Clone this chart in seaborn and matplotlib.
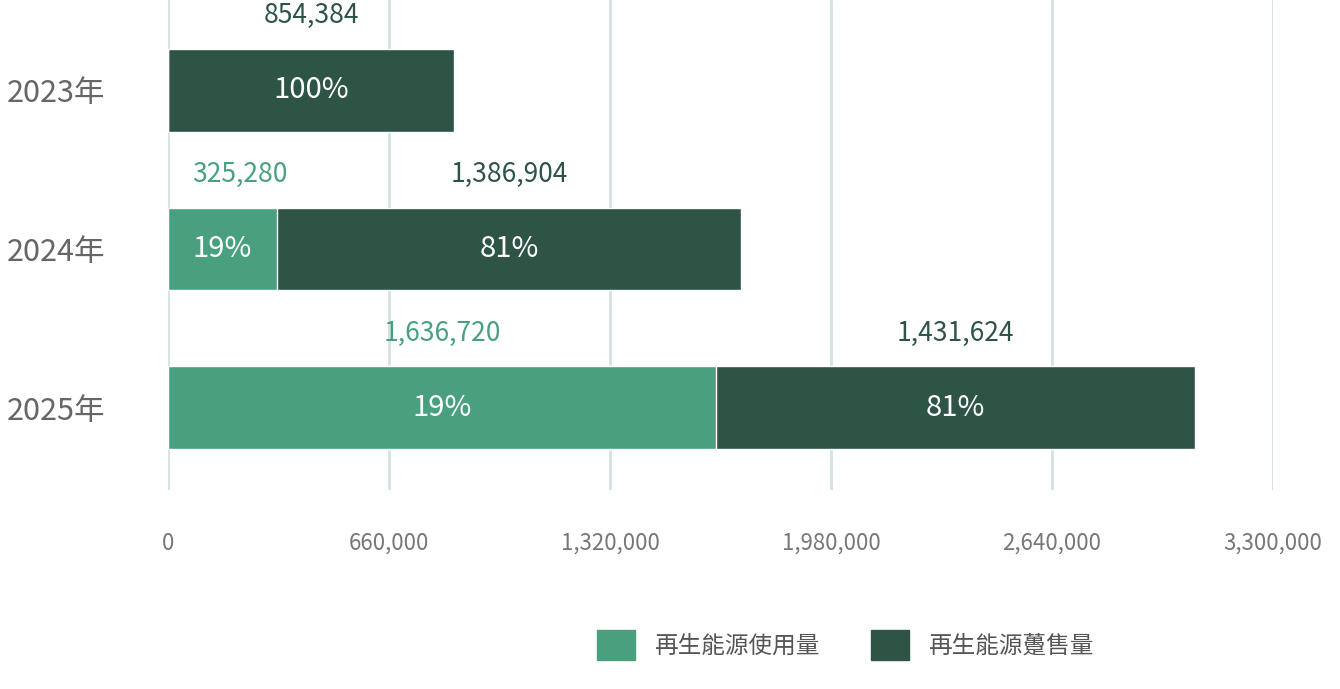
import matplotlib
matplotlib.use("Agg")
import matplotlib.pyplot as plt
import seaborn as sns
import pandas as pd
from matplotlib.patches import Patch

years = ["2023年", "2024年", "2025年"]
used = [0, 325280, 1636720]
sold = [854384, 1386904, 1431624]
used_pct = ["", "19%", "19%"]
sold_pct = ["100%", "81%", "81%"]
ticks = [0, 660000, 1320000, 1980000, 2640000, 3300000]

GREEN = "#48a07f"
DARK = "#2e5446"
sns.set_style("white")
plt.rcParams['font.family'] = ['Noto Sans CJK TC', 'DejaVu Sans']

totals = [u + s for u, s in zip(used, sold)]
df = pd.DataFrame({"year": years, "used": used, "total": totals})

fig = plt.figure(figsize=(13.4, 6.89), dpi=100)
ax = fig.add_axes([168/1340, 1-490/689, (1273-168)/1340, 490/689])
for t in ticks:
    ax.axvline(t, color="#d3e3df", lw=2, zorder=0)
sns.barplot(data=df, y="year", x="total", color=DARK, orient="h", width=0.52, ax=ax, zorder=2, saturation=1)
sns.barplot(data=df, y="year", x="used", color=GREEN, orient="h", width=0.52, ax=ax, zorder=3, saturation=1)
ax.set_xlim(0, 3300000)
ax.set_ylim(2.52, -0.57)
for i in range(3):
    if used[i] > 0:
        ax.text(used[i]/2, i, used_pct[i], ha="center", va="center", color="white", fontsize=21, zorder=5)
        ax.text(used[i]/2 if i == 2 else 215000, i-0.47, f"{used[i]:,}", ha="center", va="center", color=GREEN, fontsize=19, zorder=5)
    c = used[i] + sold[i]/2
    ax.text(c, i, sold_pct[i], ha="center", va="center", color="white", fontsize=21, zorder=5)
    ax.text(c, i-0.47, f"{sold[i]:,}", ha="center", va="center", color=DARK, fontsize=19, zorder=5)
ax.set_xticks(ticks)
ax.set_xticklabels([f"{t:,}" for t in ticks], color="#777777", fontsize=16)
ax.tick_params(axis="x", length=0, pad=30)
ax.tick_params(axis="y", length=0, pad=45)
ax.set_yticks(range(3))
ax.set_yticklabels(years, color="#666666", fontsize=22)
ax.set_xlabel(""); ax.set_ylabel("")
for s in ax.spines.values():
    s.set_visible(False)
handles = [Patch(color=GREEN, label="再生能源使用量"), Patch(color=DARK, label="再生能源躉售量")]
fig.legend(handles=handles, loc="center", bbox_to_anchor=(845/1340, 1-645/689), ncol=2, frameon=False,
           fontsize=17, handlelength=1.6, handleheight=1.6, columnspacing=2.2, labelcolor="#555555")
fig.savefig("out.png", dpi=100)
